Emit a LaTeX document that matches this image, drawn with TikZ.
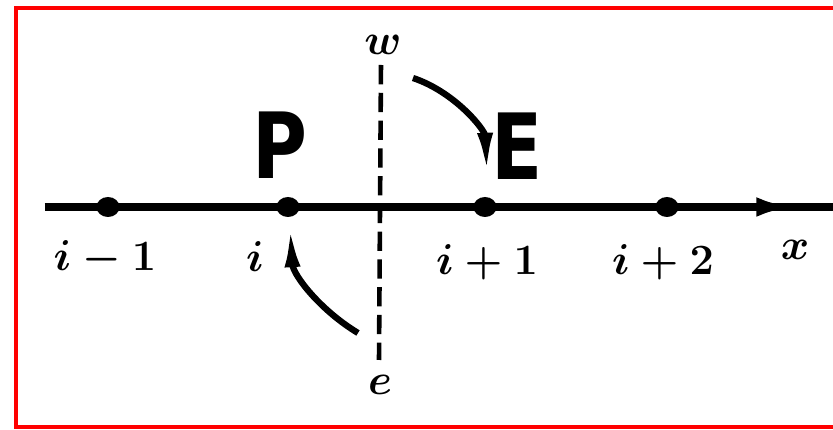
\RequirePackage{fix-cm}
\documentclass[tikz,border=0pt]{standalone}
\usepackage{fontspec}
\usepackage{tikz}
\usetikzlibrary{arrows.meta,positioning,calc,shapes.geometric}
\newfontfamily\bigsans[FakeStretch=0.82]{DejaVu Sans}

\begin{document}
\begin{tikzpicture}[
    dot/.style={ellipse, fill=black, inner sep=0pt, minimum width=0.23cm, minimum height=0.2cm},
    lbl/.style={inner sep=1pt, font=\boldmath\fontsize{12.3}{15}\selectfont},
    cell/.style={inner sep=0pt, font=\bigsans\bfseries\fontsize{26}{30}\selectfont},
    arr/.style={-{Latex[length=12pt,width=4.5pt]}, line width=1.8pt},
  ]
  \useasboundingbox (0,0) rectangle (8.33,4.30);
  % red frame, open on the right
  \draw[red, line width=1.3pt] (8.50,4.22) -- (0.16,4.22) -- (0.16,0.03) -- (8.50,0.03);

  % x axis with the grid points
  \coordinate (ax0) at (0.45,2.23);
  \coordinate (ax1) at (8.40,2.23);
  \coordinate (axtip) at (7.95,2.23);
  \draw[line width=2pt] (ax0) -- (ax1);
  \draw[-{Latex[length=11pt,width=5.5pt]}, line width=2pt] (ax0) -- (axtip);
  \node[dot] (n0) at (1.08,2.23) {};
  \node[dot] (n1) at (2.88,2.23) {};
  \node[dot] (n2) at (4.85,2.23) {};
  \node[dot] (n3) at (6.67,2.23) {};

  % labels under the axis
  \node[lbl] (l0) at (1.05,1.72) {$i-1$};
  \node[lbl] (l1) at (2.55,1.73) {$i$};
  \node[lbl] (l2) at (4.87,1.68) {$i+1$};
  \node[lbl] (l3) at (6.63,1.68) {$i+2$};
  \node[lbl] (lx) at (7.95,1.80) {$x$};

  % cell face, dashed
  \node[lbl] (fw) at (3.83,3.85) {$w$};
  \node[lbl] (fe) at (3.80,0.45) {$e$};
  \draw[line width=1.3pt, dash pattern=on 5.5pt off 2.4pt] (3.81,3.65) -- (3.79,0.70);

  % node names
  \node[cell] (P) at (2.80,2.85) {P};
  \node[cell] (E) at (5.17,2.84) {E};

  % curved arrows across the face
  \coordinate (wa) at (4.13,3.52);
  \coordinate (wb) at (4.87,2.55);
  \coordinate (ea) at (3.58,0.97);
  \coordinate (eb) at (2.90,2.05);
  \draw[arr] (wa) .. controls (4.55,3.38) and (4.85,3.00) .. (wb);
  \draw[arr] (ea) .. controls (3.20,1.20) and (2.93,1.55) .. (eb);
\end{tikzpicture}
\end{document}
